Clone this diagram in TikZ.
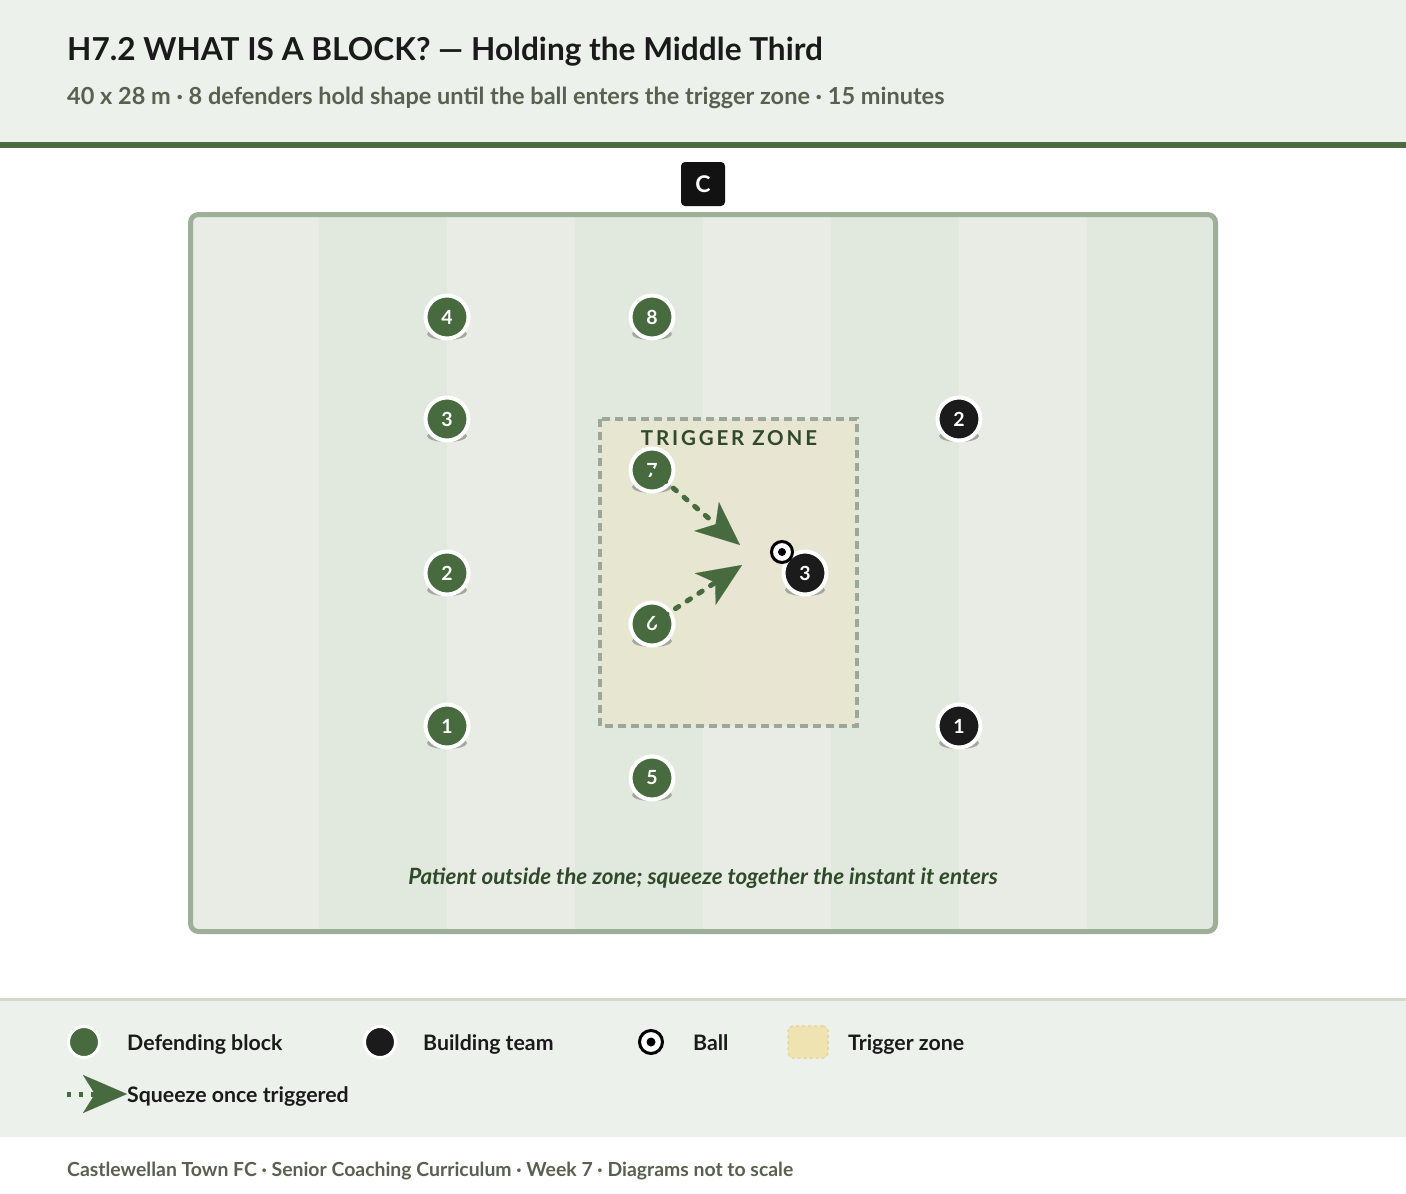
\documentclass[tikz,border=0pt]{standalone}
\usepackage{fontspec}
\setmainfont{Lato}
\newfontfamily\spacedfont[LetterSpace=14]{Lato}
\usetikzlibrary{arrows.meta}
\definecolor{headbg}{HTML}{EDF1EC}
\definecolor{rulegreen}{HTML}{4A6B3F}
\definecolor{pitchborder}{HTML}{9DB097}
\definecolor{stripeA}{HTML}{E9ECE5}
\definecolor{stripeB}{HTML}{E1E8DD}
\definecolor{zonefill}{HTML}{E8E6D0}
\definecolor{zoneborder}{HTML}{9AA799}
\definecolor{teamgreen}{HTML}{476B3E}
\definecolor{teamblack}{HTML}{1B1B1B}
\definecolor{textdark}{HTML}{1A1A1A}
\definecolor{subgray}{HTML}{58614F}
\definecolor{capgreen}{HTML}{2E4A28}
\definecolor{legendline}{HTML}{D8D8CE}
\definecolor{shadowc}{HTML}{A3A99E}
\definecolor{swatch}{HTML}{F0E3B2}
\definecolor{swatchborder}{HTML}{E6D69E}
\tikzset{
  player/.style={circle, minimum size=43pt, inner sep=0pt, line width=4pt, draw=white,
    text=white, font=\fontsize{19.5}{19.5}\selectfont\bfseries},
  squeeze/.style={draw=teamgreen, line width=5pt, line cap=round, dash pattern=on 4pt off 10pt,
    -{Stealth[length=44pt,width=38pt,inset=12pt,line width=0.1pt]}},
  legtext/.style={anchor=base west, text=textdark, font=\fontsize{21.3}{21.3}\selectfont\bfseries, inner sep=0pt},
}
\newcommand\plyr[5]{%
  \fill[shadowc] (#2,#3+17) ellipse (20 and 6);
  \node[player, fill=#4] (#1) at (#2,#3) {#5};
}
\begin{document}
\begin{tikzpicture}[x=1pt,y=-1pt]
\useasboundingbox (0,0) rectangle (1406,1194);
\fill[white] (0,0) rectangle (1406,1194);
% header
\fill[headbg] (0,0) rectangle (1406,142);
\fill[rulegreen] (0,142) rectangle (1406,148);
\node[anchor=base west, inner sep=0pt, text=textdark, font=\fontsize{31.6}{31.6}\selectfont\bfseries] (title) at (67,60)
  {H7.2 WHAT IS A BLOCK? — Holding the Middle Third};
\node[anchor=base west, inner sep=0pt, text=subgray, font=\fontsize{23.5}{23.5}\selectfont\bfseries] (subtitle) at (67,104)
  {40 x 28 m · 8 defenders hold shape until the ball enters the trigger zone · 15 minutes};
% coach
\node[fill=black!93, rounded corners=4pt, minimum width=44pt, minimum height=44pt, inner sep=0pt,
  text=white, font=\fontsize{23}{23}\selectfont\bfseries] (coach) at (703,184) {C};
% pitch stripes
\foreach \i in {0,...,7} {
  \pgfmathsetmacro\xa{191+\i*128}
  \pgfmathsetmacro\xb{191+(\i+1)*128}
  \pgfmathparse{mod(\i,2)==0 ? "stripeA" : "stripeB"}
  \fill[\pgfmathresult] (\xa,215) rectangle (\xb,930);
}
\draw[pitchborder, line width=5pt, rounded corners=8pt] (190.5,214.5) rectangle (1215.5,931.5);
% trigger zone
\fill[zonefill, opacity=0.85] (600,419) rectangle (857,726);
\draw[zoneborder, line width=3.5pt, dash pattern=on 8pt off 5pt] (600,419) rectangle (857,726);
\node[anchor=base, inner sep=0pt, text=capgreen, font=\spacedfont\fontsize{20.5}{20.5}\selectfont\bfseries] (zonelabel) at (729,445) {TRIGGER ZONE};
% defenders
\plyr{d4}{447}{317}{teamgreen}{4}
\plyr{d8}{652}{317}{teamgreen}{8}
\plyr{d3}{447}{419}{teamgreen}{3}
\plyr{d7}{652}{470}{teamgreen}{7}
\plyr{d2}{447}{573}{teamgreen}{2}
\plyr{d6}{652}{624}{teamgreen}{6}
\plyr{d1}{447}{726}{teamgreen}{1}
\plyr{d5}{652}{778}{teamgreen}{5}
% attackers
\plyr{a2}{959}{419}{teamblack}{2}
\plyr{a3}{805}{573}{teamblack}{3}
\plyr{a1}{959}{726}{teamblack}{1}
% ball
\node[circle, fill=white, draw=black, line width=3pt, minimum size=21pt, inner sep=0pt] (ball) at (782,552) {};
\fill[black] (ball.center) circle (4);
% squeeze arrows
\coordinate (t1) at (740,545);
\coordinate (t2) at (742,565);
\draw[squeeze] (d7.center) -- (t1);
\draw[squeeze] (d6.center) -- (t2);
% caption
\node[anchor=base, inner sep=0pt, text=capgreen, font=\fontsize{22.4}{22.4}\selectfont\bfseries\itshape] (caption) at (703,884)
  {Patient outside the zone; squeeze together the instant it enters};
% legend
\fill[headbg] (0,1000) rectangle (1406,1137);
\fill[legendline] (0,997.5) rectangle (1406,1001);
\node[circle, fill=teamgreen, draw=white, line width=3pt, minimum size=31pt, inner sep=0pt] (lg1) at (84,1042) {};
\node[legtext] (lt1) at (127,1050) {Defending block};
\node[circle, fill=teamblack, draw=white, line width=3pt, minimum size=31pt, inner sep=0pt] (lg2) at (380,1042) {};
\node[legtext] (lt2) at (423,1050) {Building team};
\node[circle, fill=white, draw=black, line width=3pt, minimum size=23pt, inner sep=0pt] (lg3) at (651,1042) {};
\fill[black] (lg3.center) circle (4.5);
\node[legtext] (lt3) at (693,1050) {Ball};
\node[fill=swatch, draw=swatchborder, dashed, line width=1.5pt, rounded corners=5pt, minimum width=40pt, minimum height=32pt] (lg4) at (808,1042) {};
\node[legtext] (lt4) at (848,1050) {Trigger zone};
\coordinate (la) at (67,1094);
\coordinate (lb) at (127,1094);
\draw[squeeze, line cap=butt, dash pattern=on 4pt off 8pt] (la) -- (lb);
\node[legtext] (lt5) at (127,1102) {Squeeze once triggered};
% footer
\node[anchor=base west, inner sep=0pt, text=subgray, font=\fontsize{19.4}{19.4}\selectfont\bfseries] (footer) at (67,1176)
  {Castlewellan Town FC · Senior Coaching Curriculum · Week 7 · Diagrams not to scale};
\end{tikzpicture}
\end{document}
